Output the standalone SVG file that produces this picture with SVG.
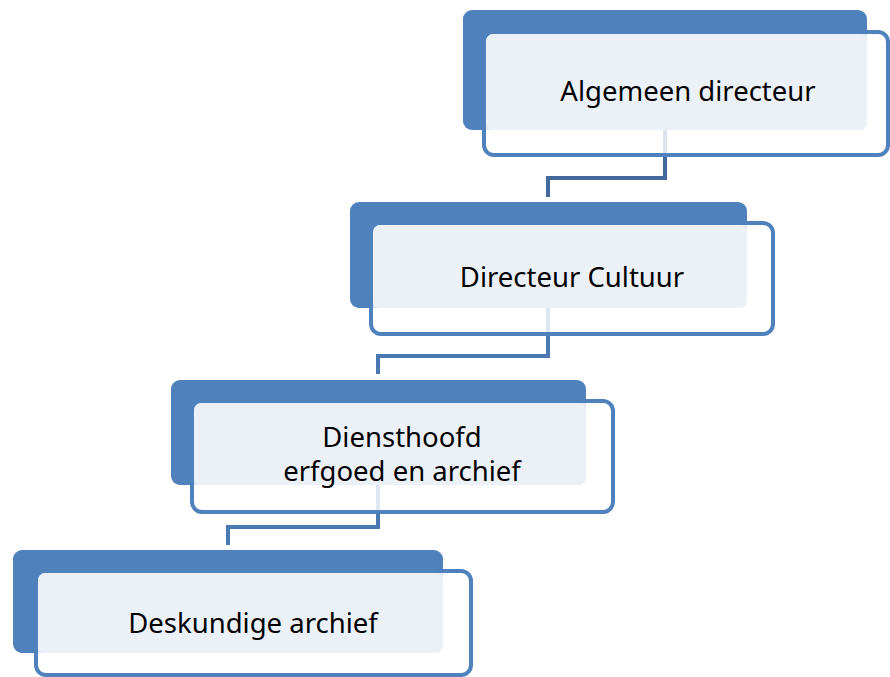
<svg xmlns="http://www.w3.org/2000/svg" width="890" height="677" viewBox="0 0 890 677">
<style>
.back{fill:#4F81BD}
.frame{fill:#FFFFFF;fill-opacity:0.82;stroke:#4F81BD;stroke-width:4}
.face{fill:#ECF0F7}
.lbl{font-family:"Noto Sans","Open Sans",sans-serif;font-size:27.5px;fill:#000;text-anchor:middle}
.conn{fill:none;stroke-width:4;stroke-linejoin:miter}
</style>
<rect width="890" height="677" fill="#FFFFFF"/>
<g id="connectors">
<path class="conn" stroke="#43699C" d="M665,130 V178 H548 V197"/>
<path class="conn" stroke="#4A78B2" d="M548,308 V356 H378 V374"/>
<path class="conn" stroke="#4A78B2" d="M378,485 V527 H228 V545"/>
</g>
<g id="n1">
<rect class="back" x="463" y="10" width="404" height="120" rx="9"/>
<rect class="frame" x="484" y="32" width="404" height="123" rx="10"/>
<rect class="face" x="486" y="34" width="381" height="96" rx="7"/>
<text class="lbl" x="688" y="101">Algemeen directeur</text>
</g>
<g id="n2">
<rect class="back" x="350" y="202" width="397" height="106" rx="9"/>
<rect class="frame" x="371" y="223" width="402" height="111" rx="10"/>
<rect class="face" x="373" y="225" width="374" height="83" rx="7"/>
<text class="lbl" x="572" y="287">Directeur Cultuur</text>
</g>
<g id="n3">
<rect class="back" x="171" y="380" width="415" height="105" rx="9"/>
<rect class="frame" x="192" y="401" width="421" height="111" rx="10"/>
<rect class="face" x="194" y="403" width="392" height="82" rx="7"/>
<text class="lbl" x="402" y="447">Diensthoofd</text>
<text class="lbl" x="402" y="481">erfgoed en archief</text>
</g>
<g id="n4">
<rect class="back" x="13" y="550" width="430" height="103" rx="9"/>
<rect class="frame" x="36" y="571" width="435" height="104" rx="10"/>
<rect class="face" x="38" y="573" width="405" height="80" rx="7"/>
<text class="lbl" x="253" y="633">Deskundige archief</text>
</g>
</svg>
